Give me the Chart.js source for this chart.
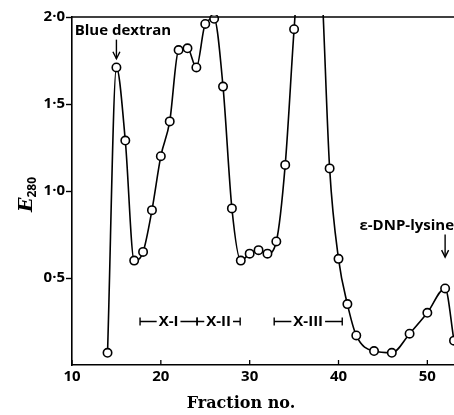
<!DOCTYPE html>
<html>
<head>
<meta charset="utf-8">
<script src="https://cdn.jsdelivr.net/npm/chart.js@4.4.1/dist/chart.umd.min.js"></script>
<style>
  body { margin: 0; background: #fff; }
  #wrap { width: 454px; height: 415px; }
</style>
</head>
<body>
<div id="wrap"><canvas id="chart" width="454" height="415"></canvas></div>
<script>
// fraction numbers and E280 readings
var fractions = [14, 15, 16, 17, 18, 19, 20, 21, 22, 23, 24, 25, 26, 27, 28, 29, 30, 31, 32, 33, 34, 35,
                 36, 37, 38, 39, 40, 41, 42, 44, 46, 48, 50, 52, 53];
var e280 = [0.07, 1.71, 1.29, 0.60, 0.65, 0.89, 1.20, 1.40, 1.81, 1.82, 1.71, 1.96, 1.99, 1.60, 0.90, 0.60,
            0.64, 0.66, 0.64, 0.71, 1.15, 1.93, 2.6, 2.7, 2.3, 1.13, 0.61, 0.35, 0.17, 0.08, 0.07, 0.18,
            0.30, 0.44, 0.14];

var xTicks = [10, 20, 30, 40, 50];
var yTicks = [0.5, 1.0, 1.5, 2.0];
var yTickLabels = ['0·5', '1·0', '1·5', '2·0'];

// arrows pointing at marker peaks
var markers = [
	{ text: 'Blue dextran', x: 15, textX: 10.3, textY: 1.92, arrowFrom: 1.87, arrowTo: 1.76, align: 'left' },
	{ text: 'ε-DNP-lysine', x: 52, textX: 53, textY: 0.80, arrowFrom: 0.75, arrowTo: 0.62, align: 'right' }
];

// pooled fraction ranges
var poolNames = ['X-I', 'X-II', 'X-III'];
var poolFrom = [17.66, 24.08, 32.76];
var poolTo = [24.08, 28.93, 40.42];
var poolLevel = 0.25;

var SANS = '"Open Sans", "DejaVu Sans", sans-serif';

function drawArrow(ctx, x, y1, y2) {
	ctx.beginPath();
	ctx.moveTo(x, y1);
	ctx.lineTo(x, y2);
	ctx.stroke();
	ctx.beginPath();
	ctx.moveTo(x - 3.5, y2 - 7);
	ctx.lineTo(x, y2);
	ctx.lineTo(x + 3.5, y2 - 7);
	ctx.stroke();
}

var extras = {
	id: 'extras',
	afterDatasetsDraw: function(chart) {
		var ctx = chart.ctx;
		var a = chart.chartArea;
		var xs = chart.scales.x, ys = chart.scales.y;
		ctx.save();
		ctx.strokeStyle = '#000';
		ctx.fillStyle = '#000';
		ctx.lineWidth = 1.6;

		// top frame line
		ctx.beginPath();
		ctx.moveTo(a.left, a.top);
		ctx.lineTo(chart.width, a.top);
		ctx.stroke();

		// inward x ticks
		ctx.lineWidth = 1.3;
		xTicks.forEach(function(v) {
			var px = xs.getPixelForValue(v);
			ctx.beginPath();
			ctx.moveTo(px, a.bottom);
			ctx.lineTo(px, a.bottom - 5);
			ctx.stroke();
		});

		// markers
		ctx.font = 'bold 15px ' + SANS;
		ctx.textBaseline = 'middle';
		ctx.lineWidth = 1.4;
		markers.forEach(function(m) {
			ctx.textAlign = m.align;
			ctx.fillText(m.text, xs.getPixelForValue(m.textX), ys.getPixelForValue(m.textY));
			drawArrow(ctx, xs.getPixelForValue(m.x), ys.getPixelForValue(m.arrowFrom), ys.getPixelForValue(m.arrowTo));
		});

		// pools
		ctx.font = 'bold 15px ' + SANS;
		ctx.textAlign = 'center';
		var py = ys.getPixelForValue(poolLevel);
		poolNames.forEach(function(name, i) {
			var x1 = xs.getPixelForValue(poolFrom[i]);
			var x2 = xs.getPixelForValue(poolTo[i]);
			var w = ctx.measureText(name).width;
			var mid = (x1 + x2) / 2;
			ctx.fillText(name, mid, py);
			ctx.beginPath();
			ctx.moveTo(x1, py - 4); ctx.lineTo(x1, py + 4);
			ctx.moveTo(x2, py - 4); ctx.lineTo(x2, py + 4);
			if (mid - w / 2 - 2 > x1) { ctx.moveTo(x1, py); ctx.lineTo(mid - w / 2 - 2, py); }
			if (mid + w / 2 + 2 < x2) { ctx.moveTo(mid + w / 2 + 2, py); ctx.lineTo(x2, py); }
			ctx.stroke();
		});

		// x title
		ctx.font = 'bold 16px "DejaVu Serif", serif';
		ctx.textAlign = 'center';
		ctx.textBaseline = 'alphabetic';
		ctx.fillText('Fraction no.', 241, 408);

		// y title E280
		ctx.translate(27, 195);
		ctx.rotate(-Math.PI / 2);
		ctx.textAlign = 'left';
		ctx.font = 'italic bold 19px "DejaVu Serif", serif';
		var ew = ctx.measureText('E').width;
		ctx.fillText('E', -17, 5);
		ctx.font = 'bold 12px ' + SANS;
		ctx.fillText('280', -17 + ew, 9);
		ctx.restore();
	}
};

function Init() {
	var points = fractions.map(function(f, i) { return { x: f, y: e280[i] }; });

	new Chart(document.getElementById('chart'), {
		type: 'line',
		data: {
			datasets: [{
				data: points,
				borderColor: '#000',
				borderWidth: 1.6,
				pointRadius: 4.2,
				pointBorderWidth: 1.6,
				pointBackgroundColor: '#fff',
				pointBorderColor: '#000',
				cubicInterpolationMode: 'monotone',
				clip: { left: 0, top: 2, right: 8, bottom: 8 }
			}]
		},
		options: {
			responsive: false,
			animation: false,
			layout: { autoPadding: false, padding: { top: 17, right: 0, left: 0, bottom: 0 } },
			plugins: { legend: { display: false }, tooltip: { enabled: false } },
			scales: {
				x: {
					type: 'linear',
					min: 10,
					max: 53,
					afterBuildTicks: function(s) { s.ticks = xTicks.map(function(v) { return { value: v }; }); },
					afterFit: function(s) { s.height = 50; s.paddingRight = 0; s.paddingLeft = 0; },
					ticks: { color: '#000', font: { family: SANS, size: 15, weight: 'bold' }, padding: 3, maxRotation: 0 },
					grid: { display: true, drawOnChartArea: false, drawTicks: false },
					border: { display: true, color: '#000', width: 1.6 }
				},
				y: {
					min: 0,
					max: 2,
					afterBuildTicks: function(s) { s.ticks = yTicks.map(function(v) { return { value: v }; }); },
					afterFit: function(s) { s.width = 72; },
					ticks: {
						color: '#000',
						font: { family: SANS, size: 15, weight: 'bold' },
						padding: 1,
						callback: function(v) { var k = yTicks.indexOf(v); return k >= 0 ? yTickLabels[k] : ''; }
					},
					grid: { display: true, drawOnChartArea: false, drawTicks: true, tickLength: 6, color: '#000', tickWidth: 1.4 },
					border: { display: true, color: '#000', width: 1.6 }
				}
			}
		},
		plugins: [extras]
	});
}

Init();
</script>
</body>
</html>
